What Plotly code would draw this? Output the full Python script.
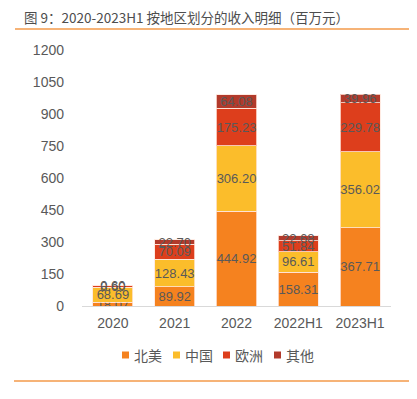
import plotly.graph_objects as go

categories = ["2020", "2021", "2022", "2022H1", "2023H1"]
north_america = [18.07, 89.92, 444.92, 158.31, 367.71]
china = [68.69, 128.43, 306.20, 96.61, 356.02]
europe = [8.60, 70.09, 175.23, 51.84, 229.78]
others = [0.60, 22.70, 64.08, 22.68, 39.96]
series_names = ["北美", "中国", "欧洲", "其他"]
y_ticks = [0, 150, 300, 450, 600, 750, 900, 1050, 1200]

colors = ["#F5821F", "#FBBD2B", "#DD3E1C", "#B23A2B"]
FONT = "Liberation Sans, Arial, Noto Sans CJK SC"
CJK = "Noto Sans CJK SC"

# page has an 8px body margin; figure is sized to fit the window
OFF = 8
W, H = 417 - OFF, 399 - OFF
# plot area in page pixels: x 82..391, y 50..306
PL, PR, PT, PB = 82, 391, 50, 306
L, R, T, B = PL - OFF, W - (PR - OFF), PT - OFF, H - (PB - OFF)
pw, ph = PR - PL, PB - PT

def px(x):
    return (x - PL) / pw

def py(y):
    return (PB - y) / ph

fig = go.Figure()
for name, vals, col in zip(series_names, [north_america, china, europe, others], colors):
    fig.add_trace(go.Bar(
        x=categories, y=vals, name=name,
        marker=dict(color=col, line=dict(color="rgba(255,230,220,0.8)", width=1)),
        text=[f"{v:.2f}" for v in vals],
        textposition="inside", insidetextanchor="middle", textangle=0,
        textfont=dict(size=13, color="#595959", family=FONT),
        constraintext="none",
    ))

annotations = [dict(
    text="图 9：2020-2023H1 按地区划分的收入明细（百万元）",
    xref="paper", yref="paper", x=px(23), y=py(16.5), xanchor="left", yanchor="middle",
    showarrow=False, borderpad=0, font=dict(size=13.5, color="#4D4D4D", family=CJK))]

shapes = [
    dict(type="line", xref="paper", yref="paper", x0=px(15), x1=px(415), y0=py(29), y1=py(29),
         line=dict(color="#F39A4A", width=1.5)),
    dict(type="line", xref="paper", yref="paper", x0=px(14), x1=px(415), y0=py(381), y1=py(381),
         line=dict(color="#F39A4A", width=1.5)),
]

# compact legend
leg_x = [122, 173, 223, 274]
leg_y = 355
for name, col, lx in zip(series_names, colors, leg_x):
    shapes.append(dict(type="rect", xref="paper", yref="paper",
                       x0=px(lx), x1=px(lx + 7), y0=py(leg_y + 3.5), y1=py(leg_y - 3.5),
                       fillcolor=col, line=dict(width=0)))
    annotations.append(dict(text=name, xref="paper", yref="paper", x=px(lx + 10), y=py(leg_y),
                            xanchor="left", yanchor="middle", showarrow=False,
                            font=dict(size=14, color="#595959", family=CJK)))

fig.update_layout(
    width=W, height=H, barmode="stack", bargap=0.35,
    margin=dict(l=L, r=R, t=T, b=B, pad=0),
    paper_bgcolor="white", plot_bgcolor="white",
    font=dict(family=FONT, color="#595959", size=13),
    uniformtext=dict(minsize=13, mode="show"),
    xaxis=dict(showline=True, linecolor="#D9D9D9", linewidth=1, ticks="",
               tickfont=dict(size=14, color="#595959"), showgrid=False, ticklabelstandoff=4),
    yaxis=dict(range=[0, 1200], tickvals=y_ticks, showgrid=False, zeroline=False,
               showline=False, tickfont=dict(size=14, color="#595959"), ticklabelstandoff=17),
    showlegend=False,
    annotations=annotations,
    shapes=shapes,
)

fig.write_html("out.html")
